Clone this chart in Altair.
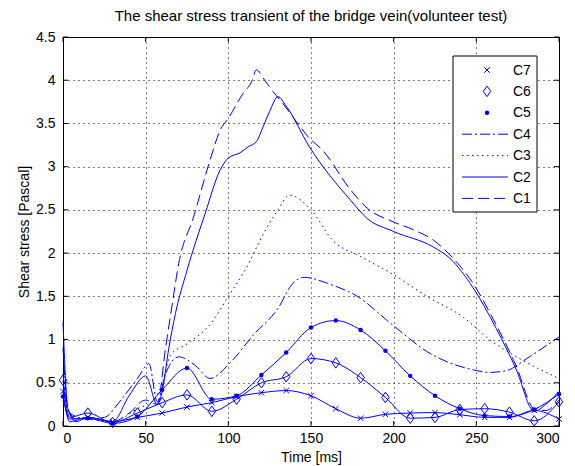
import altair as alt
import pandas as pd

# ---------------- data ----------------
t15 = list(range(0, 301, 15))

c7_t = [0, 4] + t15[1:]
c7_v = [0.40, 0.05, 0.10, 0.05, 0.10, 0.15, 0.22, 0.27, 0.34, 0.385, 0.41, 0.35, 0.20,
        0.09, 0.135, 0.15, 0.155, 0.13, 0.10, 0.10, 0.18, 0.08]

c6_t = [0, 4] + t15[1:]
c6_v = [0.53, 0.10, 0.15, 0.04, 0.15, 0.27, 0.36, 0.17, 0.31, 0.50, 0.57, 0.78, 0.73,
        0.56, 0.33, 0.09, 0.10, 0.19, 0.20, 0.16, 0.06, 0.28]

c5_t = [0, 4] + t15[1:]
c5_v = [0.34, 0.08, 0.09, 0.03, 0.11, 0.42, 0.67, 0.31, 0.35, 0.59, 0.85, 1.14, 1.22,
        1.11, 0.87, 0.58, 0.35, 0.20, 0.12, 0.11, 0.19, 0.37]

c4_t = [0, 4, 15, 25, 35, 45, 52, 57, 62, 70, 80, 89, 101, 115, 130, 139, 146, 150,
        160, 178, 198, 222, 248, 258, 268, 282, 300]
c4_v = [0.60, 0.15, 0.08, 0.10, 0.30, 0.55, 0.72, 0.28, 0.60, 0.80, 0.70, 0.55, 0.73,
        1.05, 1.36, 1.65, 1.72, 1.71, 1.65, 1.50, 1.19, 0.84, 0.65, 0.62, 0.64, 0.80, 1.03]

c3_t = [0, 5, 15, 30, 45, 55, 60, 65, 75, 90, 100, 110, 122, 130, 137, 150, 163, 180,
        200, 220, 242, 258, 278, 300]
c3_v = [0.30, 0.10, 0.08, 0.05, 0.20, 0.30, 0.50, 0.82, 0.95, 1.20, 1.50, 1.80, 2.25,
        2.50, 2.67, 2.50, 2.15, 1.96, 1.75, 1.50, 1.26, 1.00, 0.76, 0.55]

c2_t = [0, 3, 8, 15, 30, 40, 50, 57, 60, 64, 68, 75, 86, 95, 100, 107, 112, 117, 121,
        125, 130, 135, 149, 174, 184, 200, 224, 234, 248, 262, 274, 285, 292, 300]
c2_v = [1.20, 0.20, 0.05, 0.10, 0.05, 0.35, 0.58, 0.25, 0.40, 0.90, 1.30, 1.80, 2.46,
        2.96, 3.10, 3.16, 3.23, 3.29, 3.46, 3.64, 3.81, 3.70, 3.23, 2.61, 2.40, 2.25,
        2.07, 1.94, 1.60, 1.13, 0.66, 0.17, 0.25, 0.40]

c1_t = [0, 3, 8, 15, 30, 40, 50, 57, 62, 66, 70, 79, 89, 95, 100, 109, 114, 117, 122,
        127, 133, 140, 149, 157, 174, 184, 200, 212, 224, 234, 248, 262, 274, 285, 292, 300]
c1_v = [0.90, 0.20, 0.08, 0.10, 0.05, 0.15, 0.30, 0.25, 0.90, 1.40, 1.88, 2.42, 3.08,
        3.42, 3.56, 3.85, 3.98, 4.12, 4.00, 3.87, 3.73, 3.55, 3.33, 3.19, 2.73, 2.52,
        2.36, 2.27, 2.15, 1.98, 1.65, 1.17, 0.70, 0.20, 0.18, 0.30]

x_ticks = [0, 50, 100, 150, 200, 250, 300]
y_ticks = [0, 0.5, 1, 1.5, 2, 2.5, 3, 3.5, 4, 4.5]
legend_names = ["C7", "C6", "C5", "C4", "C3", "C2", "C1"]

TITLE = "The shear stress transient of the bridge vein(volunteer test)"
FONT = "Liberation Sans"
BLUE = "#0000ff"

W, H = 496, 389

# ---------------- helpers ----------------
xs = alt.Scale(domain=[0, 300], nice=False, zero=False)
ys = alt.Scale(domain=[0, 4.5], nice=False, zero=False)
X = alt.X("t:Q", scale=xs, axis=alt.Axis(values=x_ticks, title="Time [ms]",
                                         labelPadding=5, titlePadding=5))
Y = alt.Y("v:Q", scale=ys, axis=alt.Axis(values=y_ticks, title="Shear stress [Pascal]",
                                         labelExpr="datum.value + ''",
                                         labelPadding=8, titlePadding=4))


def frame(times, vals):
    return pd.DataFrame({"t": times, "v": vals})


def line(times, vals, dash=None):
    kw = dict(color=BLUE, strokeWidth=1, interpolate="monotone")
    if dash:
        kw["strokeDash"] = dash
    return alt.Chart(frame(times, vals)).mark_line(**kw).encode(x=X, y=Y)


X_PATH = "M-1,-1L1,1M-1,1L1,-1"
DIA_PATH = "M0,-1L0.72,0L0,1L-0.72,0Z"


def markers(times, vals, shape, size, filled):
    kw = dict(shape=shape, size=size, filled=filled, color=BLUE, strokeWidth=1, opacity=1)
    return (alt.Chart(frame(times, vals))
            .transform_filter("datum.t % 15 == 0")
            .mark_point(**kw).encode(x=X, y=Y))


DASH_C1 = [11, 5]
DASH_C3 = [1.5, 3.5]
DASH_C4 = [10, 3, 2, 3]

layers = [
    line(c1_t, c1_v, DASH_C1),
    line(c2_t, c2_v),
    line(c3_t, c3_v, DASH_C3),
    line(c4_t, c4_v, DASH_C4),
    line(c5_t, c5_v),
    line(c6_t, c6_v),
    line(c7_t, c7_v),
    markers(c5_t, c5_v, "circle", 20, True),
    markers(c6_t, c6_v, DIA_PATH, 110, False),
    markers(c7_t, c7_v, X_PATH, 30, False),
]

# inward tick marks (MATLAB style) on all four sides
xt = pd.DataFrame({"t": x_ticks})
yt = pd.DataFrame({"v": y_ticks})
layers += [
    alt.Chart(xt).mark_rule(color="black", strokeWidth=1).encode(
        x=X, y=alt.value(H), y2=alt.value(H - 5)),
    alt.Chart(xt).mark_rule(color="black", strokeWidth=1).encode(
        x=X, y=alt.value(0), y2=alt.value(5)),
    alt.Chart(yt).mark_rule(color="black", strokeWidth=1).encode(
        y=Y, x=alt.value(0), x2=alt.value(5)),
    alt.Chart(yt).mark_rule(color="black", strokeWidth=1).encode(
        y=Y, x=alt.value(W), x2=alt.value(W - 5)),
]

# ---------------- legend box ----------------
LX0, LX1, LY0, LY1 = 390, 474, 19, 175
leg_df = pd.DataFrame({"n": ["legend"]})
layers.append(alt.Chart(leg_df).mark_rect(fill="white", stroke="black", strokeWidth=1).encode(
    x=alt.value(LX0), x2=alt.value(LX1), y=alt.value(LY0), y2=alt.value(LY1)))

styles = {
    "C7": ("point", X_PATH, 30, False),
    "C6": ("point", DIA_PATH, 110, False),
    "C5": ("point", "circle", 20, True),
    "C4": ("line", DASH_C4),
    "C3": ("line", DASH_C3),
    "C2": ("line", None),
    "C1": ("line", DASH_C1),
}
SYM_X = 424
LINE_X0, LINE_X1 = 399, 445
TEXT_X = 450
for i, name in enumerate(legend_names):
    yy = 33 + i * 21.4
    d = pd.DataFrame({"n": [name]})
    st = styles[name]
    if st[0] == "point":
        layers.append(alt.Chart(d).mark_point(shape=st[1], size=st[2], filled=st[3],
                                              color=BLUE, strokeWidth=1, opacity=1).encode(
            x=alt.value(SYM_X), y=alt.value(yy)))
    else:
        kw = dict(color=BLUE, strokeWidth=1)
        if st[1]:
            kw["strokeDash"] = st[1]
        layers.append(alt.Chart(d).mark_rule(**kw).encode(
            x=alt.value(LINE_X0), x2=alt.value(LINE_X1), y=alt.value(yy)))
    layers.append(alt.Chart(d).mark_text(font=FONT, fontSize=14, align="left",
                                         baseline="middle", color="black").encode(
        x=alt.value(TEXT_X), y=alt.value(yy + 0.5), text="n:N"))

chart = (
    alt.layer(*layers)
    .properties(
        width=W, height=H,
        title=alt.TitleParams(text=TITLE, font=FONT, fontSize=15, fontWeight="normal",
                              color="black", anchor="middle", offset=6),
        autosize=alt.AutoSizeParams(type="none"),
        padding={"left": 63, "top": 37, "right": 16, "bottom": 40},
        background="white",
    )
    .configure_axis(
        grid=True, gridColor="black", gridDash=[1, 4], gridOpacity=1, gridWidth=1,
        domain=False, ticks=False,
        labelFont=FONT, labelFontSize=14, labelColor="black",
        titleFont=FONT, titleFontSize=14, titleFontWeight="normal", titleColor="black",
    )
    .configure_view(stroke="black", strokeWidth=1)
)

chart.save("out.html", embed_options={"renderer": "svg", "actions": False})
